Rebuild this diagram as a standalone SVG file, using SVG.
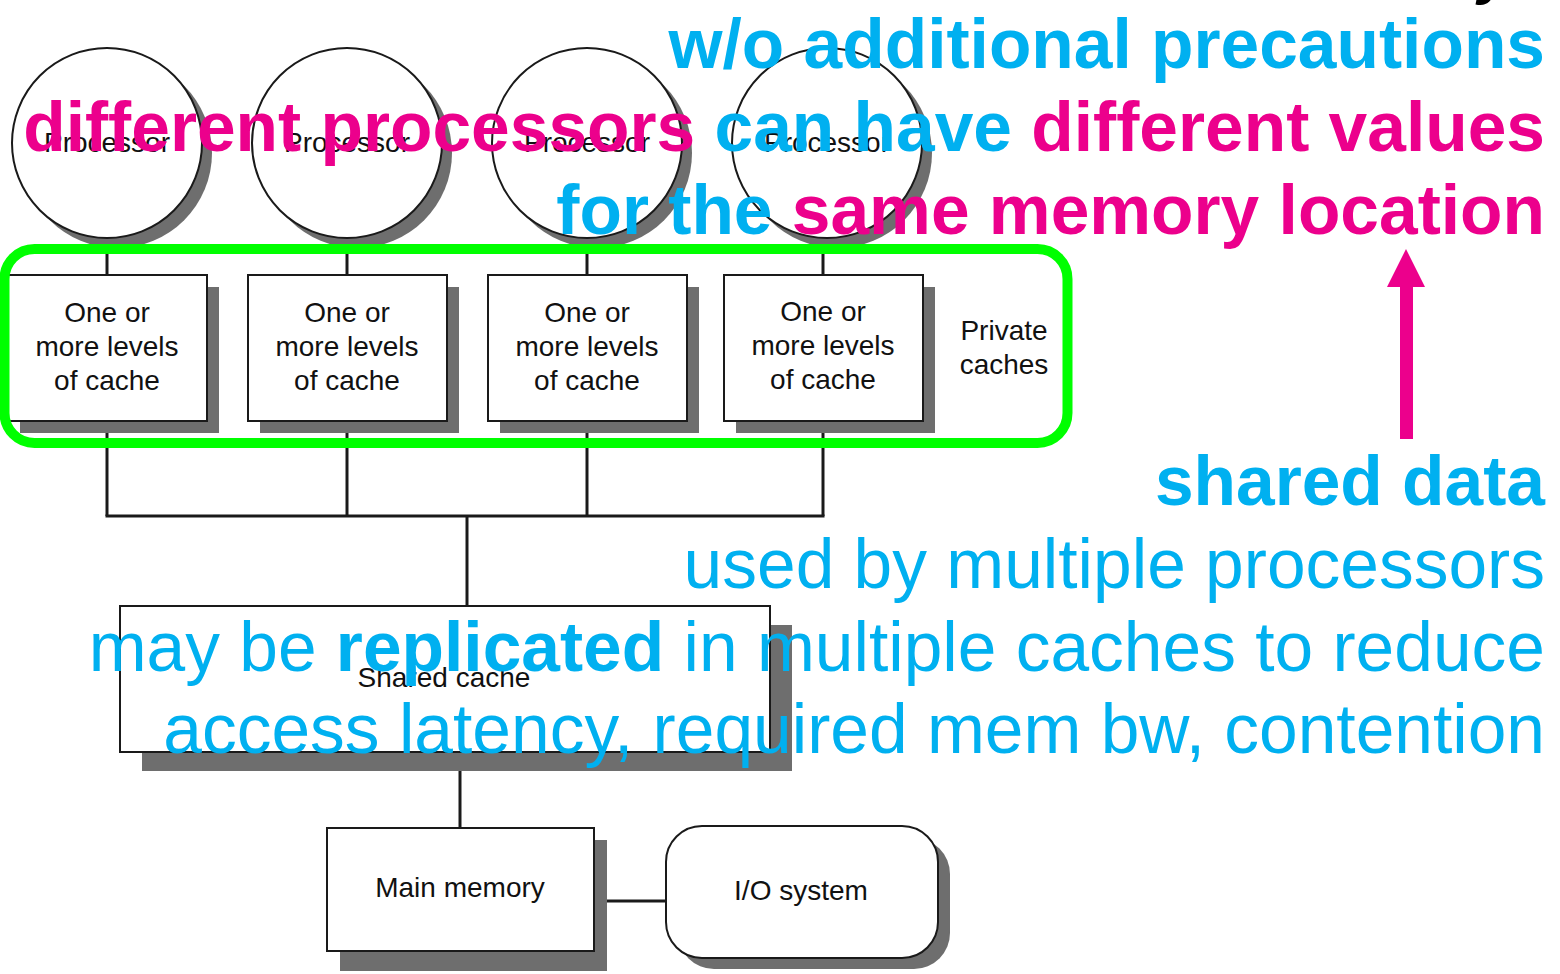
<svg xmlns="http://www.w3.org/2000/svg" width="1560" height="974" viewBox="0 0 1560 974">
<style>
.shadow{fill:#6e6e6e;stroke:none}
.node{fill:#fff;stroke:#1a1a1a;stroke-width:2}
.lbl{font-family:"Liberation Sans",Arial,sans-serif;font-size:28px;fill:#111;text-anchor:middle}
.conn{stroke:#1a1a1a;stroke-width:3;fill:none}
.ov{font-family:"Liberation Sans",Arial,sans-serif;font-size:69.5px;text-anchor:end}
.b{font-weight:bold}
.cy{fill:#00b0f0}
.mg{fill:#ec008c}
</style>
<rect width="1560" height="974" fill="#fff"/>
<text x="1478" y="-7" font-family="Liberation Sans,Arial,sans-serif" font-size="60" font-weight="bold" font-style="italic" fill="#000">y</text>
<g id="connectors">
<line class="conn" x1="107" y1="238" x2="107" y2="275" stroke-width="2"/>
<line class="conn" x1="347" y1="238" x2="347" y2="275" stroke-width="2"/>
<line class="conn" x1="587" y1="238" x2="587" y2="275" stroke-width="2"/>
<line class="conn" x1="823" y1="238" x2="823" y2="275" stroke-width="2"/>
<line class="conn" x1="107" y1="421" x2="107" y2="516"/>
<line class="conn" x1="347" y1="421" x2="347" y2="516"/>
<line class="conn" x1="587" y1="421" x2="587" y2="516"/>
<line class="conn" x1="823" y1="421" x2="823" y2="516"/>
<line class="conn" x1="105.5" y1="516" x2="824.5" y2="516"/>
<line class="conn" x1="467" y1="516" x2="467" y2="606"/>
<line class="conn" x1="460" y1="752" x2="460" y2="828"/>
<line class="conn" x1="594" y1="901" x2="666" y2="901"/>
</g>
<g id="proc1"><circle class="shadow" cx="117" cy="153" r="95"/><circle class="node" cx="107" cy="143" r="95"/><text class="lbl" x="107" y="152">Processor</text></g>
<g id="proc2"><circle class="shadow" cx="357" cy="153" r="95"/><circle class="node" cx="347" cy="143" r="95"/><text class="lbl" x="347" y="152">Processor</text></g>
<g id="proc3"><circle class="shadow" cx="597" cy="153" r="95"/><circle class="node" cx="587" cy="143" r="95"/><text class="lbl" x="587" y="152">Processor</text></g>
<g id="proc4"><circle class="shadow" cx="837" cy="153" r="95"/><circle class="node" cx="827" cy="143" r="95"/><text class="lbl" x="827" y="152">Processor</text></g>
<g id="cache1"><rect class="shadow" x="20" y="287" width="199" height="146"/><rect class="node" x="8" y="275" width="199" height="146"/><text class="lbl" x="107" y="322">One or</text><text class="lbl" x="107" y="356">more levels</text><text class="lbl" x="107" y="390">of cache</text></g>
<g id="cache2"><rect class="shadow" x="260" y="287" width="199" height="146"/><rect class="node" x="248" y="275" width="199" height="146"/><text class="lbl" x="347" y="322">One or</text><text class="lbl" x="347" y="356">more levels</text><text class="lbl" x="347" y="390">of cache</text></g>
<g id="cache3"><rect class="shadow" x="500" y="287" width="199" height="146"/><rect class="node" x="488" y="275" width="199" height="146"/><text class="lbl" x="587" y="322">One or</text><text class="lbl" x="587" y="356">more levels</text><text class="lbl" x="587" y="390">of cache</text></g>
<g id="cache4"><rect class="shadow" x="736" y="287" width="199" height="146"/><rect class="node" x="724" y="275" width="199" height="146"/><text class="lbl" x="823" y="321">One or</text><text class="lbl" x="823" y="355">more levels</text><text class="lbl" x="823" y="389">of cache</text></g>
<g id="private-label"><text class="lbl" x="1004" y="340">Private</text><text class="lbl" x="1004" y="374">caches</text></g>
<g id="private-group"><rect x="4.5" y="249" width="1063" height="194" rx="30" fill="none" stroke="#00ff00" stroke-width="10"/></g>
<g id="shared-cache"><rect class="shadow" x="142" y="625" width="650" height="146"/><rect class="node" x="120" y="606" width="650" height="146"/><text class="lbl" x="444" y="687">Shared cache</text></g>
<g id="main-memory"><rect class="shadow" x="340" y="840" width="267" height="131"/><rect class="node" x="327" y="828" width="267" height="123"/><text class="lbl" x="460" y="897">Main memory</text></g>
<g id="io-system"><rect class="shadow" x="678" y="838" width="272" height="131" rx="36"/><rect class="node" x="666" y="826" width="272" height="132" rx="36"/><text class="lbl" x="801" y="900">I/O system</text></g>
<g id="annotations">
<text class="ov b cy" x="1545" y="68">w/o additional precautions</text>
<text class="ov b" x="1545" y="151"><tspan class="mg">different processors</tspan><tspan class="cy"> can have </tspan><tspan class="mg">different values</tspan></text>
<text class="ov b" x="1545" y="234"><tspan class="cy">for the </tspan><tspan class="mg">same memory location</tspan></text>
<rect x="1400" y="285" width="13" height="154" fill="#ec008c"/>
<polygon points="1406,249 1387,287 1425,287" fill="#ec008c"/>
<text class="ov b cy" x="1545" y="505">shared data</text>
<text class="ov cy" x="1545" y="588">used by multiple processors</text>
<text class="ov cy" x="1545" y="671">may be <tspan class="b">replicated</tspan> in multiple caches to reduce</text>
<text class="ov cy" x="1545" y="753">access latency, required mem bw, contention</text>
</g>
</svg>
